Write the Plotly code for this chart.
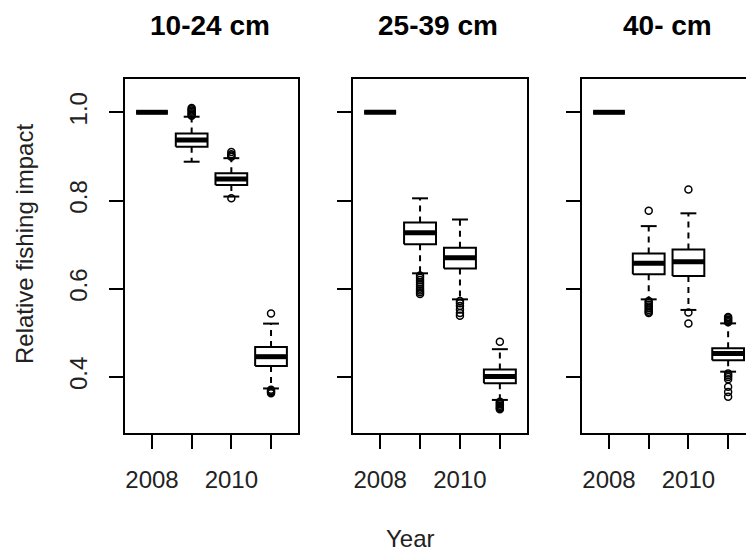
import plotly.graph_objects as go

# ---------------- data ----------------
years = [2008, 2009, 2010, 2011]
x_tick_labels = ["2008", "", "2010", ""]
y_tick_values = [0.4, 0.6, 0.8, 1.0]
y_tick_labels = ["0.4", "0.6", "0.8", "1.0"]
panel_titles = ["10-24 cm", "25-39 cm", "40- cm"]

# 10-24 cm
low_10_24 = [1.0, 0.888, 0.809, 0.374]
q1_10_24 = [1.0, 0.922, 0.835, 0.425]
med_10_24 = [1.0, 0.937, 0.849, 0.446]
q3_10_24 = [1.0, 0.952, 0.862, 0.468]
up_10_24 = [1.0, 0.990, 0.896, 0.521]
out_10_24 = [
    [],
    [0.992, 0.995, 0.998, 1.001, 1.004, 1.007, 1.010],
    [0.899, 0.902, 0.905, 0.910, 0.805],
    [0.544, 0.371, 0.368, 0.366, 0.363],
]

# 25-39 cm
low_25_39 = [1.0, 0.635, 0.576, 0.348]
q1_25_39 = [1.0, 0.701, 0.646, 0.386]
med_25_39 = [1.0, 0.727, 0.670, 0.401]
q3_25_39 = [1.0, 0.750, 0.693, 0.417]
up_25_39 = [1.0, 0.805, 0.757, 0.463]
out_25_39 = [
    [],
    [0.630, 0.625, 0.620, 0.615, 0.610, 0.605, 0.600, 0.596, 0.592, 0.588],
    [0.572, 0.567, 0.561, 0.553, 0.545, 0.539],
    [0.480, 0.344, 0.341, 0.338, 0.335, 0.332, 0.329, 0.327],
]

# 40- cm
low_40 = [1.0, 0.576, 0.552, 0.412]
q1_40 = [1.0, 0.633, 0.629, 0.438]
med_40 = [1.0, 0.658, 0.661, 0.4535]
q3_40 = [1.0, 0.680, 0.689, 0.465]
up_40 = [1.0, 0.742, 0.771, 0.5215]
out_40 = [
    [],
    [0.777, 0.572, 0.568, 0.564, 0.560, 0.556, 0.552, 0.548, 0.545],
    [0.825, 0.546, 0.521],
    [0.524, 0.527, 0.530, 0.533, 0.536, 0.408, 0.404, 0.400, 0.395, 0.378, 0.366, 0.355],
]

panels = [
    (low_10_24, q1_10_24, med_10_24, q3_10_24, up_10_24, out_10_24),
    (low_25_39, q1_25_39, med_25_39, q3_25_39, up_25_39, out_25_39),
    (low_40, q1_40, med_40, q3_40, up_40, out_40),
]

# ---------------- styling ----------------
FONT = "Liberation Sans, Arial, sans-serif"
TXT = "#222222"
half_box = 0.4
half_staple = 0.2

x_domains = [[125 / 746, 298 / 746], [353 / 746, 527 / 746], [582 / 746, 1.0]]
x_ranges = [[2007.32, 2011.68], [2007.32, 2011.68], [2007.32, 2011.45]]
title_x = [210 / 746, 438 / 746, 667 / 746]
y_domain = [(553 - 433) / 553, (553 - 79) / 553]
y_range = [0.273, 1.0755]

fig = go.Figure()

for p, (low, q1, med, q3, up, outs) in enumerate(panels):
    xa = "x" if p == 0 else f"x{p + 1}"
    ya = "y" if p == 0 else f"y{p + 1}"

    bx, by, mx, my, wx, wy, sx, sy, ox, oy = [], [], [], [], [], [], [], [], [], []
    for i, yr in enumerate(years):
        bx += [yr - half_box, yr + half_box, yr + half_box, yr - half_box, yr - half_box, None]
        by += [q1[i], q1[i], q3[i], q3[i], q1[i], None]
        mx += [yr - half_box, yr + half_box, None]
        my += [med[i], med[i], None]
        wx += [yr, yr, None, yr, yr, None]
        wy += [q3[i], up[i], None, q1[i], low[i], None]
        sx += [yr - half_staple, yr + half_staple, None, yr - half_staple, yr + half_staple, None]
        sy += [up[i], up[i], None, low[i], low[i], None]
        for v in outs[i]:
            ox.append(yr)
            oy.append(v)

    fig.add_trace(go.Scatter(x=wx, y=wy, mode="lines", xaxis=xa, yaxis=ya,
                             line=dict(color="black", width=2, dash="6px,5px"),
                             hoverinfo="skip"))
    fig.add_trace(go.Scatter(x=sx, y=sy, mode="lines", xaxis=xa, yaxis=ya,
                             line=dict(color="black", width=2), hoverinfo="skip"))
    fig.add_trace(go.Scatter(x=bx, y=by, mode="lines", xaxis=xa, yaxis=ya,
                             line=dict(color="black", width=2), fill="toself",
                             fillcolor="white", hoverinfo="skip"))
    fig.add_trace(go.Scatter(x=mx, y=my, mode="lines", xaxis=xa, yaxis=ya,
                             line=dict(color="black", width=5), hoverinfo="skip"))
    fig.add_trace(go.Scatter(x=ox, y=oy, mode="markers", xaxis=xa, yaxis=ya,
                             marker=dict(symbol="circle-open", size=7, color="black",
                                         line=dict(width=1.5, color="black")),
                             hoverinfo="skip"))

    xkey = "xaxis" if p == 0 else f"xaxis{p + 1}"
    ykey = "yaxis" if p == 0 else f"yaxis{p + 1}"
    fig.update_layout({
        xkey: dict(domain=x_domains[p], range=x_ranges[p], anchor=ya,
                   tickmode="array", tickvals=years, ticktext=x_tick_labels,
                   ticks="outside", ticklen=14, tickwidth=2, tickcolor="black",
                   showline=True, linewidth=2, linecolor="black", mirror=True,
                   showgrid=False, zeroline=False, ticklabelstandoff=10,
                   tickfont=dict(family=FONT, size=24, color=TXT)),
        ykey: dict(domain=y_domain, range=y_range, anchor=xa,
                   tickmode="array", tickvals=y_tick_values, ticktext=y_tick_labels,
                   showticklabels=(p == 0), tickangle=-90,
                   ticks="outside", ticklen=14, tickwidth=2, tickcolor="black",
                   showline=True, linewidth=2, linecolor="black",
                   mirror=(p < 2), showgrid=False, zeroline=False,
                   ticklabelstandoff=12,
                   tickfont=dict(family=FONT, size=24, color=TXT)),
    })
    fig.add_annotation(text=f"<b>{panel_titles[p]}</b>", xref="paper", yref="paper",
                       x=title_x[p], y=1 - 25 / 553, xanchor="center", yanchor="middle",
                       showarrow=False, font=dict(family=FONT, size=28, color="black"))

fig.add_annotation(text="Year", xref="paper", yref="paper", x=410 / 746, y=1 - 538 / 553,
                   xanchor="center", yanchor="middle", showarrow=False,
                   font=dict(family=FONT, size=24, color=TXT))
fig.add_annotation(text="Relative fishing impact", xref="paper", yref="paper",
                   x=24 / 746, y=1 - 244 / 553, xanchor="center", yanchor="middle",
                   textangle=-90, showarrow=False,
                   font=dict(family=FONT, size=24, color=TXT))

fig.update_layout(width=746, height=553, margin=dict(l=0, r=0, t=0, b=0),
                  paper_bgcolor="white", plot_bgcolor="white", showlegend=False)

fig.write_html("out.html", config={"displayModeBar": False},
               post_script="document.body.style.margin='0';document.body.style.overflow='hidden';")
